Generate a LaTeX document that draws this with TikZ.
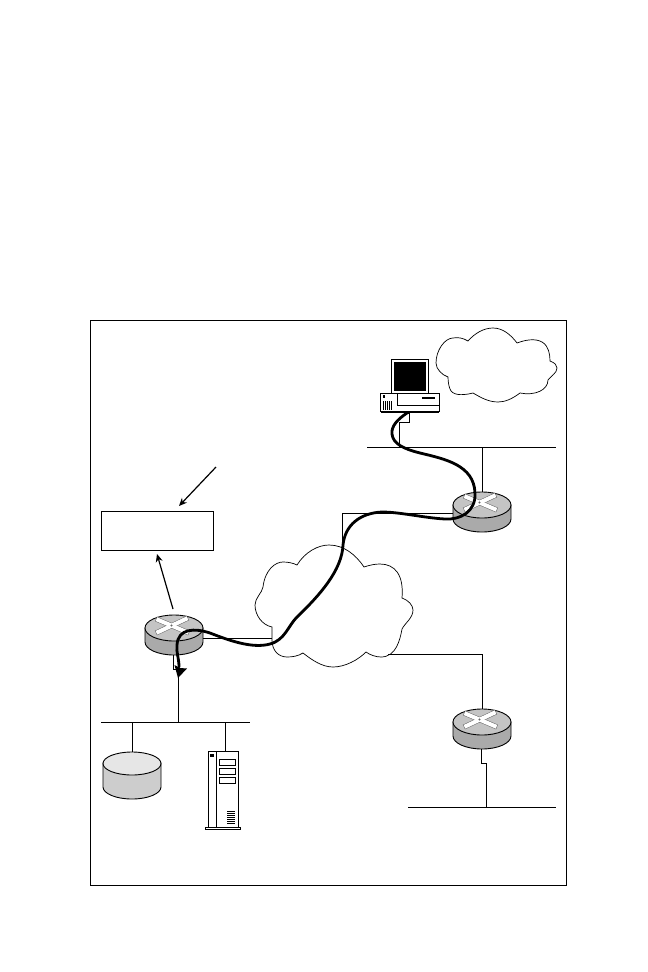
\documentclass[tikz,border=0pt]{standalone}
\usepackage{xcolor}
\usetikzlibrary{arrows.meta}
\definecolor{discside}{RGB}{170,170,170}
\definecolor{disctop}{RGB}{196,196,196}
\definecolor{dbside}{RGB}{205,205,205}
\definecolor{dbtop}{RGB}{230,230,230}
\tikzset{
  wire/.style={line width=1pt, black},
  outline/.style={draw=black, line width=0.9pt},
  edge/.style={-{Stealth[length=8pt,width=7pt]}, line width=1.2pt},
  route/.style={line width=2.8pt, black, line cap=round},
  cloudline/.style={draw=black, line width=0.7pt, fill=white},
  pics/router/.style={code={
    \path[outline, fill=discside] (-29,0) -- (-29,14) arc[start angle=180, end angle=0, x radius=29, y radius=13] -- (29,0) -- cycle;
    \path[outline, fill=disctop] (0,0) ellipse [x radius=29, y radius=13];
    \draw[black!60, line width=5pt] (-18,-9) -- (15,5);
    \draw[black!60, line width=5pt] (-18,5) -- (14,-10);
    \draw[white, line width=4pt] (-17.5,-8.8) -- (14.5,4.8);
    \draw[white, line width=4pt] (-17.5,4.8) -- (13.5,-9.8);
    \fill[black!60] (-2.5,-2.5) circle (1.2);
  }}
}

\begin{document}
\begin{tikzpicture}[x=1pt, y=-1pt]
    \useasboundingbox (0,0) rectangle (648,972);
    \draw[line width=1pt] (90.5,320.5) rectangle (566.5,885.5);

    % clouds
    \path[cloudline] (297,565) .. controls (305,552) and (318,545) .. (329,545)
      .. controls (344,545) and (356,555) .. (364,567)
      .. controls (370,565) and (375,564) .. (380,564)
      .. controls (395,564) and (404,575) .. (402,598)
      .. controls (408,600) and (413,605) .. (413,610)
      .. controls (413,618) and (405,623) .. (402,629)
      .. controls (400,640) and (396,657) .. (381,657)
      .. controls (376,657) and (370,655) .. (366,652)
      .. controls (358,660) and (345,667) .. (333,667)
      .. controls (322,667) and (312,660) .. (303,653)
      .. controls (298,656) and (293,657) .. (287,657)
      .. controls (278,657) and (272,650) .. (272,640)
      -- (272,627)
      .. controls (262,625) and (255,615) .. (255,605)
      .. controls (255,598) and (262,593) .. (263,587)
      .. controls (265,570) and (275,562) .. (283,562)
      .. controls (288,562) and (293,563) .. (297,565) -- cycle;
    \path[cloudline] (468,341) .. controls (475,333) and (484,328) .. (493,328)
      .. controls (503,328) and (511,335) .. (517,343)
      .. controls (525,340) and (535,338) .. (542,342)
      .. controls (549,346) and (550,355) .. (550,361)
      .. controls (555,363) and (557,365) .. (557,368)
      .. controls (557,373) and (551,376) .. (548,380)
      .. controls (548,390) and (535,396) .. (520,393)
      .. controls (512,399) and (505,402) .. (498,402)
      .. controls (488,402) and (480,397) .. (473,393)
      .. controls (465,395) and (455,396) .. (451,391)
      .. controls (449,388) and (448,382) .. (448,377)
      .. controls (442,375) and (436,369) .. (436,363)
      .. controls (436,350) and (445,338) .. (453,338)
      .. controls (458,337) and (463,338) .. (468,341) -- cycle;

    % routers
    \pic (rtA) at (482,505) {router};
    \pic (rtB) at (174,628) {router};
    \pic (rtC) at (482,722) {router};

    % computer
    \draw[wire, fill=white] (391.5,359.5) rectangle (428.5,393.5);
    \fill[black] (393.5,362) rectangle (426,391);
    \draw[wire, fill=white] (380.5,393.5) rectangle (439.5,411.5);
    \draw[wire] (397.5,393.5) -- (397.5,405.5) -- (439.5,405.5);
    \draw[line width=2pt] (422,398) -- (435,398);
    \fill[black] (383,395) rectangle (385,398);
    \foreach \vx in {383.5,385.5,387.5,389.5,391.5}
      \draw[wire] (\vx,401) -- (\vx,410);
    \draw[wire, fill=white] (381.5,411.5) rectangle (438.5,412.5);
    \coordinate (pc) at (407,413);

    % database and server
    \path[outline, fill=dbside] (103,763) -- (103,787) arc[start angle=180, end angle=0, x radius=29, y radius=12] -- (161,763) -- cycle;
    \path[outline, fill=dbtop] (132,763.5) ellipse [x radius=29, y radius=11.5];
    \coordinate (db) at (132.5,752);
    \draw[wire, fill=white] (208.5,751.5) rectangle (238.5,827.5);
    \draw[wire] (216.5,751.5) -- (216.5,827.5);
    \draw[wire, fill=white] (205.5,827.5) rectangle (240.5,829.5);
    \fill[black] (210,754) rectangle (214,757);
    \foreach \sy in {759.5,768.5,777.5}
      \draw[wire] (219.5,\sy) rectangle (235.5,\sy+6);
    \foreach \vy in {811.5,813.5,...,823.5}
      \draw[wire] (227,\vy) -- (235,\vy);
    \coordinate (srv) at (225.5,751);

    % busses
    \coordinate (busAl) at (367,447.5);
    \coordinate (busAr) at (556,447.5);
    \coordinate (busBl) at (101,722.5);
    \coordinate (busBr) at (250,722.5);
    \coordinate (busCl) at (408,807.5);
    \coordinate (busCr) at (556,807.5);
    \draw[wire] (busAl) -- (busAr);
    \draw[wire] (busBl) -- (busBr);
    \draw[wire] (busCl) -- (busCr);

    % thin links
    \draw[wire] (pc) -- (409.5,413) -- (409.5,422.5) -- (399.5,422.5) -- (399.5,447.5);
    \draw[wire] (482.5,492) -- (482.5,447.5);
    \draw[wire] (453,513.5) -- (342.5,513.5) -- (342.5,547);
    \draw[wire] (203,638.5) -- (272,638.5);
    \draw[wire] (173.5,655) -- (173.5,669.5) -- (178.5,669.5) -- (178.5,722.5);
    \draw[wire] (132.5,722.5) -- (db);
    \draw[wire] (225.5,722.5) -- (srv);
    \draw[wire] (388,654.5) -- (482.5,654.5) -- (482.5,709);
    \draw[wire] (481.5,749) -- (481.5,763.5) -- (486.5,763.5) -- (486.5,807.5);

    % table box and its arrows
    \node[draw, line width=1pt, minimum width=112pt, minimum height=39pt, inner sep=0pt] (tbl) at (157.5,530.5) {};
    \coordinate (src) at (216,467);
    \draw[edge] (src) -- (179,506);
    \coordinate (rtBtop) at (173,609);
    \draw[edge] (rtBtop) -- (157,554);

    % route through the network
    \draw[route] (pc) .. controls (398,419) and (391,426) .. (392,434)
      .. controls (393,444) and (404,449) .. (420,453)
      .. controls (445,459) and (474,465) .. (475,493)
      .. controls (476,512) and (460,520) .. (445,519)
      .. controls (425,518) and (400,512) .. (382,512)
      .. controls (360,513) and (345,525) .. (343,545)
      .. controls (342,570) and (320,595) .. (297,617)
      .. controls (288,626) and (285,640) .. (270,644)
      .. controls (252,649) and (228,640) .. (210,633)
      .. controls (195,628) and (178,628) .. (177,645)
      .. controls (176,652) and (179,658) .. (179,667);
    \fill[black] (178,678) -- (174.5,665) -- (180,668) -- (187,668.5) -- cycle;
\end{tikzpicture}
\end{document}
